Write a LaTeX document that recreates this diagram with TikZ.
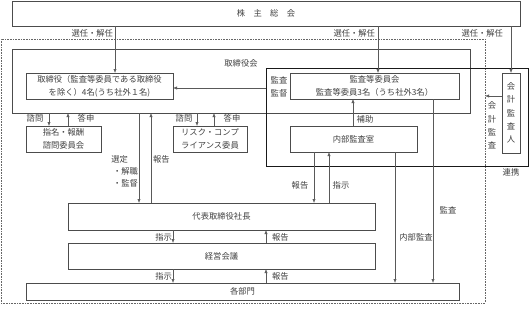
\documentclass[tikz,border=0pt]{standalone}
\usepackage{fontspec}
\setmainfont{Noto Sans CJK JP}
\usetikzlibrary{arrows.meta}
\begin{document}
\begin{tikzpicture}[x=1pt,y=-1pt,
  every node/.style={font=\fontsize{8.3}{13}\selectfont, text=black!75, inner sep=0pt, outer sep=0pt},
  bx/.style={draw=black!70, line width=0.7pt, align=center},
  grpbox/.style={draw=black!90, line width=0.9pt},
  dotbox/.style={draw=black!60, line width=0.6pt, dash pattern=on 0.8pt off 0.8pt},
  arr/.style={draw=black!65, line width=0.6pt, -{Latex[length=4pt,width=3.2pt]}},
  vtext/.style={align=center, font=\fontsize{8.3}{13.3}\selectfont}]
\useasboundingbox (0,0) rectangle (529,314);

% x / y guide coordinates
\foreach \xv in {49,68,115,139,151,173,197,214,266,314,329,353,378,395,433,511}
  \coordinate (x\xv) at (\xv,0);
\coordinate (y88) at (0,88);
\coordinate (y96) at (0,96);

% containers
\node[dotbox, minimum width=484pt, minimum height=264pt] (outer) at (243,171) {};
\node[bx, minimum width=458pt, minimum height=64pt] (torikai) at (241,81) {};
\node (torikailbl) at (241,63) {取締役会};
\node[grpbox, minimum width=262pt, minimum height=98pt] (kgrp) at (397,117) {};

% boxes
\node[bx, minimum width=508pt, minimum height=25pt] (kabu) at (266,13.5) {株\hspace{1em}主\hspace{1em}総\hspace{1em}会};
\node[bx, minimum width=147pt, minimum height=26pt] (tori) at (99.5,86) {取締役（監査等委員である取締役\\を除く）4名(うち社外１名)};
\node[bx, minimum width=169pt, minimum height=26pt] (kiin) at (374.5,86) {監査等委員会\\監査等委員3名（うち社外3名）};
\node[bx, vtext, minimum width=18pt, minimum height=80pt] (kaikei) at (511,113) {会\\計\\監\\査\\人};
\node[bx, minimum width=127pt, minimum height=26pt] (naibu) at (353.5,139) {内部監査室};
\node[bx, minimum width=75pt, minimum height=26pt] (shimei) at (63.5,139) {指名・報酬\\諮問委員会};
\node[bx, minimum width=74pt, minimum height=26pt] (risk) at (210,139) {リスク・コンプ\\ライアンス委員};
\node[bx, minimum width=307pt, minimum height=27pt] (daihyo) at (221.5,216.5) {代表取締役社長};
\node[bx, minimum width=307pt, minimum height=26pt] (keiei) at (221.5,256) {経営会議};
\node[bx, minimum width=433pt, minimum height=17pt] (kakubu) at (242.5,291.5) {各部門};

% shareholders' meeting
\draw[arr] (x115 |- kabu.south) -- (x115 |- tori.north);
\node[anchor=east] (l1) at (113,33) {選任・解任};
\draw[arr] (x378 |- kabu.south) -- (x378 |- kiin.north);
\node[anchor=east] (l2) at (375,33) {選任・解任};
\draw[arr] (x511 |- kabu.south) -- (x511 |- kaikei.north);
\node[anchor=east] (l3) at (503,33) {選任・解任};

% audit committee -> directors
\draw[arr] (y88 -| kgrp.west) -- (y88 -| tori.east);
\node (l4) at (279,80) {監査};
\node (l5) at (279,93) {監督};

% accounting auditor
\draw[arr] (y96 -| kaikei.west) -- (y96 -| outer.east);
\node[vtext] (l6) at (492,125.5) {会\\計\\監\\査};
\node (l7) at (511,172) {連携};

% internal audit
\draw[arr] (x353 |- naibu.north) -- (x353 |- kiin.south);
\node (l8) at (365,119) {補助};
\draw[arr] (x433 |- kiin.south) -- (x433 |- kakubu.north);
\node (l9) at (448,210) {監査};
\draw[arr] (x395 |- naibu.south) -- (x395 |- kakubu.north);
\node (l10) at (416,237) {内部監査};
\draw[arr] (x314 |- naibu.south) -- (x314 |- daihyo.north);
\node (l11) at (300,185) {報告};
\draw[arr] (x329 |- daihyo.north) -- (x329 |- naibu.south);
\node (l12) at (341,185) {指示};

% board -> president
\draw[arr] (x139 |- torikai.south) -- (x139 |- daihyo.north);
\node[anchor=east] (l13) at (128,159) {選定};
\node[anchor=east] (l14) at (138,171) {・解職};
\node[anchor=east] (l15) at (138,183) {・監督};
\draw[arr] (x151 |- daihyo.north) -- (x151 |- torikai.south);
\node[anchor=west] (l16) at (153,159) {報告};

% committees
\draw[arr] (x49 |- torikai.south) -- (x49 |- shimei.north);
\node (l17) at (35,118) {諮問};
\draw[arr] (x68 |- shimei.north) -- (x68 |- torikai.south);
\node (l18) at (86,118) {答申};
\draw[arr] (x197 |- torikai.south) -- (x197 |- risk.north);
\node (l19) at (184,118) {諮問};
\draw[arr] (x214 |- risk.north) -- (x214 |- torikai.south);
\node (l20) at (232,118) {答申};

% president / management / departments
\draw[arr] (x173 |- daihyo.south) -- (x173 |- keiei.north);
\node[anchor=east] (l21) at (172,237) {指示};
\draw[arr] (x266 |- keiei.north) -- (x266 |- daihyo.south);
\node[anchor=west] (l22) at (272,237) {報告};
\draw[arr] (x173 |- keiei.south) -- (x173 |- kakubu.north);
\node[anchor=east] (l23) at (172,276) {指示};
\draw[arr] (x266 |- kakubu.north) -- (x266 |- keiei.south);
\node[anchor=west] (l24) at (272,276) {報告};
\end{tikzpicture}
\end{document}
